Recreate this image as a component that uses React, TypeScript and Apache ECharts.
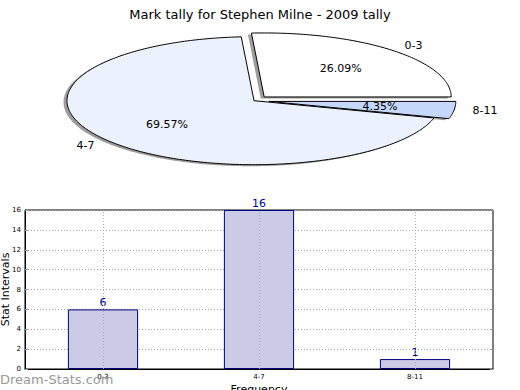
import React, { useEffect, useRef } from "react";
import * as echarts from "echarts";

const chartTitle = "Mark tally for Stephen Milne - 2009 tally";
const categories = ["0-3", "4-7", "8-11"];
const counts = [6, 16, 1];
const sliceColors = ["#ffffff", "#ebf1fd", "#c5d8fb"];
const explode = [0.08, 0, 0.08];
const yMin = 0;
const yMax = 16;
const yStep = 2;

const FONT = "DejaVu Sans";
const CX = 254;
const CY = 100.7;
const RX = 187;
const RY = 64;

export default function App() {
  const ref = useRef<HTMLDivElement>(null);
  useEffect(() => {
    if (!ref.current) return;
    const chart = echarts.init(ref.current, undefined, { renderer: "svg" });
    const total = counts.reduce((a, b) => a + b, 0);

    const renderSlice = (params: any, api: any) => {
      const i = params.dataIndex;
      const v = api.value(0) as number;
      let start = 0;
      for (let j = 0; j < i; j++) start += (counts[j] / total) * 360;
      const end = start + (v / total) * 360;
      const mid = (((start + end) / 2) * Math.PI) / 180;
      const e = explode[i];
      const ox = CX + e * RX * Math.cos(mid);
      const oy = CY - e * RY * Math.sin(mid);
      const pts: number[][] = [[ox, oy]];
      const n = Math.max(4, Math.ceil(end - start));
      for (let k = 0; k <= n; k++) {
        const a = ((start + ((end - start) * k) / n) * Math.PI) / 180;
        pts.push([ox + RX * Math.cos(a), oy - RY * Math.sin(a)]);
      }
      const shadowPts = pts.map((p) => [p[0] - 3.5, p[1] + 1.5]);
      const pct = ((v / total) * 100).toFixed(2) + "%";
      const c = Math.cos(mid);
      const s = Math.sin(mid);
      return {
        type: "group",
        children: [
          {
            type: "polygon",
            z2: 0,
            shape: { points: shadowPts },
            style: { fill: "rgba(60,60,60,0.5)", stroke: "none" },
          },
          {
            type: "polygon",
            z2: 5,
            shape: { points: pts },
            style: { fill: sliceColors[i], stroke: "#000", lineWidth: 1 },
          },
          {
            type: "text",
            z2: 10,
            x: ox + 0.6 * RX * c,
            y: oy - 0.6 * RY * s,
            style: {
              text: pct,
              fill: "#000",
              fontSize: 11,
              fontFamily: FONT,
              align: "center",
              verticalAlign: "middle",
            },
          },
          {
            type: "text",
            z2: 10,
            x: ox + 1.1 * RX * c,
            y: oy - 1.1 * RY * s,
            style: {
              text: categories[i],
              fill: "#000",
              fontSize: 11,
              fontFamily: FONT,
              align: c >= 0 ? "left" : "right",
              verticalAlign: "middle",
            },
          },
        ],
      };
    };

    chart.setOption({
      animation: false,
      textStyle: { fontFamily: FONT },
      title: {
        text: chartTitle,
        left: "center",
        top: 3,
        textStyle: { fontSize: 13, fontWeight: "normal", color: "#000", fontFamily: FONT },
      },
      grid: {
        left: 25,
        right: 27,
        top: 210,
        bottom: 21,
        containLabel: false,
        outerBoundsMode: "none",
        show: true,
        borderColor: "#000",
        borderWidth: 1,
      },
      xAxis: {
        type: "category",
        data: categories,
        axisLine: { show: true, lineStyle: { color: "#000" } },
        axisTick: { show: false },
        axisLabel: { fontSize: 7, margin: 4, color: "#000" },
        splitLine: { show: false },
        name: "Frequency",
        nameLocation: "middle",
        nameGap: 15,
        nameTextStyle: { fontSize: 11, color: "#000" },
      },
      yAxis: [
        {
          type: "value",
          min: yMin,
          max: yMax,
          interval: yStep,
          axisLine: { show: true, lineStyle: { color: "#000" } },
          axisTick: { show: true, inside: true, length: 3, lineStyle: { color: "#999" } },
          axisLabel: { fontSize: 7, margin: 4, color: "#000" },
          splitLine: { show: true, lineStyle: { type: [1, 2], color: "#aaa", width: 1 } },
          name: "Stat Intervals",
          nameLocation: "middle",
          nameGap: 14,
          nameMoveOverlap: false,
          nameRotate: 90,
          nameTextStyle: { fontSize: 11, color: "#000" },
        },
        {
          type: "value",
          position: "right",
          min: yMin,
          max: yMax,
          interval: yStep,
          axisLine: { show: false },
          axisTick: { show: true, inside: true, length: 3, lineStyle: { color: "#999" } },
          axisLabel: { show: false },
          splitLine: { show: false },
        },
      ],
      graphic: [
        {
          type: "text",
          left: 0,
          top: 373,
          z: 100,
          style: { text: "Dream-Stats.com", fill: "#999999", fontSize: 13, fontFamily: FONT },
        },
      ],
      series: [
        {
          type: "custom",
          coordinateSystem: "none",
          silent: true,
          data: counts.map((v) => [v]),
          renderItem: renderSlice,
        },
        {
          type: "bar",
          data: counts,
          barWidth: "45%",
          itemStyle: { color: "#cbcbe6", borderColor: "#000080", borderWidth: 1 },
          label: {
            show: true,
            position: "top",
            distance: 1,
            color: "#0000aa",
            fontSize: 11,
            fontFamily: FONT,
          },
          markLine: {
            silent: true,
            symbol: "none",
            label: { show: false },
            lineStyle: { color: "#aaa", type: [1, 2], width: 1 },
            data: categories.map((c) => ({ xAxis: c })),
          },
        },
      ],
    });
    return () => chart.dispose();
  }, []);
  return (
    <div
      ref={ref}
      style={{ position: "fixed", left: 0, top: 0, width: 520, height: 390, background: "#fff" }}
    />
  );
}
